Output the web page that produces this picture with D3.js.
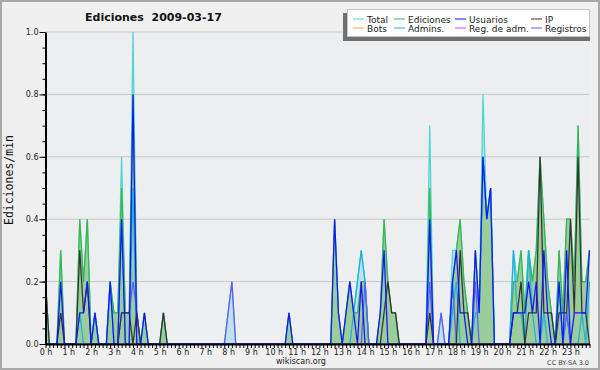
<!DOCTYPE html>
<html>
<head>
<meta charset="utf-8">
<script src="https://cdn.jsdelivr.net/npm/d3@7"></script>
<style>
  body { margin: 0; background: #f0f0f0; }
  svg { display: block; font-family: "DejaVu Sans", sans-serif; }
</style>
</head>
<body>
<svg id="drawing_region"></svg>
<script>
// 10 minute bins, 144 per day, edits per minute
const hourLabels = ["0 h","1 h","2 h","3 h","4 h","5 h","6 h","7 h","8 h","9 h","10 h","11 h",
                    "12 h","13 h","14 h","15 h","16 h","17 h","18 h","19 h","20 h","21 h","22 h","23 h"];
const yMajor = [0, 0.2, 0.4, 0.6, 0.8, 1.0];

const total = [
  .2,0,0,0,.3,0,0,0,0,.4,.2,.4,
  0,.1,0,0,0,.2,.1,.1,.6,.1,.1,1.0,
  .1,0,.1,0,0,0,0,.1,0,0,0,0,
  0,0,0,0,0,0,0,0,0,0,0,0,
  .1,.2,0,0,0,0,0,0,0,0,0,0,
  0,0,0,0,.1,0,0,0,0,0,0,0,
  0,0,0,0,.4,.1,0,.1,.2,.1,.2,.3,
  .2,0,0,0,.1,.4,.2,.1,.1,0,0,0,
  0,0,0,0,0,.7,0,0,.1,0,0,.3,
  .3,.4,.2,.1,0,.3,.1,.8,.4,.5,0,0,
  0,0,0,.3,.2,.3,.1,.3,.2,.3,.6,.4,
  .2,.1,0,.3,.1,.4,.4,.2,.7,.2,.2,.3
];
const ediciones = [
  .2,0,0,0,.3,0,0,0,0,.4,.2,.4,
  0,.1,0,0,0,.2,.1,.1,.5,.1,.1,.8,
  .1,0,.1,0,0,0,0,.1,0,0,0,0,
  0,0,0,0,0,0,0,0,0,0,0,0,
  0,0,0,0,0,0,0,0,0,0,0,0,
  0,0,0,0,.1,0,0,0,0,0,0,0,
  0,0,0,0,.4,.1,0,.1,.2,.1,.1,.2,
  .2,0,0,0,.1,.4,.2,.1,.1,0,0,0,
  0,0,0,0,0,.5,0,0,0,0,0,.2,
  .3,.4,.2,.1,0,.3,.1,.6,.4,.5,0,0,
  0,0,0,.2,.2,.3,.1,.3,.2,.3,.6,.4,
  .2,.1,0,.3,.1,.4,.4,.2,.7,.2,.2,.3
];
const usuarios = [
  0,0,0,0,.2,0,0,0,0,.1,.1,.2,
  0,.1,0,0,0,.2,0,0,.4,0,0,.8,
  0,0,.1,0,0,0,0,0,0,0,0,0,
  0,0,0,0,0,0,0,0,0,0,0,0,
  0,0,0,0,0,0,0,0,0,0,0,0,
  0,0,0,0,.1,0,0,0,0,0,0,0,
  0,0,0,0,.4,.1,0,.1,.2,.1,0,.2,
  0,0,0,0,.1,.3,0,0,0,0,0,0,
  0,0,0,0,0,.4,0,0,0,0,0,.2,
  .3,.1,.1,0,0,.3,.1,.6,.4,.5,0,0,
  0,0,0,.1,.1,.1,.1,.2,.1,.2,0,.3,
  .1,0,0,.2,0,.3,0,.1,.1,.1,.1,.3
];
const ip = [
  .2,0,0,0,.1,0,0,0,0,.3,.1,.2,
  0,0,0,0,0,0,0,0,.1,.1,.1,0,
  .1,0,0,0,0,0,0,.1,0,0,0,0,
  0,0,0,0,0,0,0,0,0,0,0,0,
  0,0,0,0,0,0,0,0,0,0,0,0,
  0,0,0,0,0,0,0,0,0,0,0,0,
  0,0,0,0,0,0,0,0,0,0,0,0,
  0,0,0,0,0,.1,.2,.1,.1,0,0,0,
  0,0,0,0,0,.1,0,0,0,0,0,0,
  0,.3,.1,.1,0,0,0,0,0,0,0,0,
  0,0,0,.1,.1,.2,0,.1,.1,.1,.6,.1,
  .1,.1,0,.1,.1,.1,.4,.1,.6,.1,.1,0
];
const bots = [
  0,0,0,0,0,0,0,0,0,0,0,0, 0,0,0,0,0,0,0,0,0,0,0,0,
  0,0,0,0,0,0,0,0,0,0,0,0, 0,0,0,0,0,0,0,0,0,0,0,0,
  0,0,0,0,0,0,0,0,0,0,0,0, 0,0,0,0,0,0,0,0,0,0,0,0,
  0,0,0,0,0,0,0,0,0,0,0,0, 0,0,0,0,0,0,0,0,0,0,0,0,
  0,0,0,0,0,0,0,0,0,0,0,0, 0,0,0,0,0,0,0,0,0,0,0,0,
  0,0,0,0,0,0,0,0,0,0,0,0, 0,0,0,0,0,0,0,0,0,0,0,0
];
const admins = [
  0,0,0,0,0,0,0,0,0,.1,0,0,
  0,.1,0,0,0,.2,0,0,.4,0,0,.5,
  0,0,0,0,0,0,0,0,0,0,0,0,
  0,0,0,0,0,0,0,0,0,0,0,0,
  0,0,0,0,0,0,0,0,0,0,0,0,
  0,0,0,0,0,0,0,0,0,0,0,0,
  0,0,0,0,0,0,0,0,0,.1,.2,.3,
  .2,0,0,0,0,0,0,0,0,0,0,0,
  0,0,0,0,0,.4,0,0,0,0,0,.1,
  .2,0,0,0,0,.1,.1,.6,.4,.5,0,0,
  0,0,0,.3,.1,.1,0,.3,.1,0,0,.1,
  0,0,0,.2,0,.1,0,0,0,.1,0,.2
];
const regAdm = [
  0,0,0,0,0,0,0,0,0,0,0,0, 0,0,0,0,0,0,0,0,0,0,0,0,
  0,0,0,0,0,0,0,0,0,0,0,0, 0,0,0,0,0,0,0,0,0,0,0,0,
  0,0,0,0,0,0,0,0,0,0,0,0, 0,0,0,0,0,0,0,0,0,0,0,0,
  0,0,0,0,0,0,0,0,0,0,0,0, 0,0,0,0,0,0,0,0,0,0,0,0,
  0,0,0,0,0,0,0,0,0,0,0,0, 0,0,0,0,0,0,0,0,0,0,0,0,
  0,0,0,0,0,0,0,0,0,0,0,0, 0,0,0,0,0,0,0,0,0,0,0,0
];
const registros = [
  0,0,0,0,0,0,0,0,0,0,0,0,
  0,0,0,0,0,0,0,0,.1,.1,.1,.2,
  .1,0,0,0,0,0,0,0,0,0,0,0,
  0,0,0,0,0,0,0,0,0,0,0,0,
  .1,.2,0,0,0,0,0,0,0,0,0,0,
  0,0,0,0,0,0,0,0,0,0,0,0,
  0,0,0,0,0,0,0,0,0,0,0,0,
  .2,0,0,0,0,0,0,0,0,0,0,0,
  0,0,0,0,0,.2,0,0,.1,0,0,.2,
  0,0,0,0,0,.2,0,0,0,0,0,0,
  0,0,0,0,0,0,0,0,0,0,0,0,
  0,0,0,0,0,.1,0,0,0,0,0,0
];

const series = [
  { name: "Total",        values: total,     color: "#48d8cc" },
  { name: "Ediciones",    values: ediciones, color: "#3cb44b" },
  { name: "Usuarios",     values: usuarios,  color: "#1414ff" },
  { name: "IP",           values: ip,        color: "#333333" },
  { name: "Bots",         values: bots,      color: "#ffa030" },
  { name: "Admins.",      values: admins,    color: "#1cb0e4" },
  { name: "Reg. de adm.", values: regAdm,    color: "#e040f0" },
  { name: "Registros",    values: registros, color: "#5c5cff" }
];

const W = 600, H = 370;
const plotLeft = 45.5, plotRight = 589.5, plotTop = 32, plotBottom = 344;

const svg = d3.select('#drawing_region')
  .attr('width', W)
  .attr('height', H);

svg.append('rect')
  .attr('x', 1).attr('y', 1).attr('width', W - 2).attr('height', H - 2)
  .attr('fill', '#f0f0f0').attr('stroke', '#a8a8a8').attr('stroke-width', 2);

svg.append('rect')
  .attr('x', plotLeft).attr('y', plotTop).attr('width', plotRight - plotLeft).attr('height', plotBottom - plotTop)
  .attr('fill', '#eceef0');

const x = d3.scaleLinear().domain([0, 143]).range([plotLeft, plotRight]);
const y = d3.scaleLinear().domain([0, 1]).range([plotBottom, plotTop]);

// grid
svg.append('g').selectAll('line')
  .data(yMajor.slice(1))
  .enter().append('line')
  .attr('x1', plotLeft).attr('x2', plotRight)
  .attr('y1', d => y(d)).attr('y2', d => y(d))
  .attr('stroke', '#c8c8c8').attr('stroke-width', 1);

const area = d3.area()
  .x((d, i) => x(i))
  .y0(y(0))
  .y1(d => y(d));
const line = d3.line()
  .x((d, i) => x(i))
  .y(d => y(d));

svg.append('path').datum(total).attr('d', area).attr('fill', '#c2dfea');
svg.append('path').datum(ediciones).attr('d', area).attr('fill', '#9acd9a');

// draw order of the lines
const order = ["Total", "Ediciones", "Bots", "Reg. de adm.", "Admins.", "Registros", "IP", "Usuarios"];
order.forEach(n => {
  const s = series.find(d => d.name === n);
  svg.append('path')
    .datum(s.values)
    .attr('d', line)
    .attr('fill', 'none')
    .attr('stroke', s.color)
    .attr('stroke-width', 1.25)
    .attr('stroke-linejoin', 'miter');
});

// y axis, minor + major ticks
svg.append('g')
  .attr('transform', `translate(${plotLeft},0)`)
  .call(d3.axisLeft(y).tickValues(d3.range(0, 1.001, 0.05)).tickSize(3).tickFormat('').tickSizeOuter(0))
  .call(g => g.select('.domain').remove());
const yAxis = svg.append('g')
  .attr('transform', `translate(${plotLeft},0)`)
  .call(d3.axisLeft(y).tickValues(yMajor).tickSize(6).tickPadding(1).tickFormat(d3.format('.1f')).tickSizeOuter(0));
yAxis.select('.domain').attr('stroke-width', 2);
yAxis.selectAll('text').attr('font-size', 8).attr('fill', '#222').attr('font-family', '"DejaVu Sans", sans-serif');

// x axis, one tick per 10 minutes
const xAxis = svg.append('g')
  .attr('transform', `translate(0,${plotBottom})`)
  .call(d3.axisBottom(x)
    .tickValues(d3.range(0, 144))
    .tickSize(4)
    .tickPadding(1)
    .tickSizeOuter(0)
    .tickFormat(i => i % 6 === 0 ? hourLabels[i / 6] : ''));
xAxis.select('.domain').attr('stroke-width', 2);
xAxis.selectAll('text').attr('font-size', 8).attr('fill', '#222').attr('font-family', '"DejaVu Sans", sans-serif');

// titles
svg.append('text')
  .attr('x', 85).attr('y', 21)
  .attr('font-family', '"DejaVu Sans", sans-serif')
  .attr('font-weight', 'bold').attr('font-size', 11)
  .attr('fill', '#111')
  .style('white-space', 'pre')
  .text('Ediciones  2009-03-17');

svg.append('text')
  .attr('transform', 'translate(13,180) rotate(-90)')
  .attr('text-anchor', 'middle')
  .attr('font-family', '"DejaVu Sans Mono", monospace')
  .attr('font-size', 11.5)
  .attr('fill', '#111')
  .text('Ediciones/min');

svg.append('text')
  .attr('x', 301).attr('y', 364)
  .attr('text-anchor', 'middle')
  .attr('font-size', 8).attr('fill', '#222')
  .text('wikiscan.org');

svg.append('text')
  .attr('x', 589).attr('y', 365)
  .attr('text-anchor', 'end')
  .attr('font-size', 6.5).attr('fill', '#444')
  .text('CC BY-SA 3.0');

// legend
const legend = svg.append('g');
legend.append('rect')
  .attr('x', 343).attr('y', 13).attr('width', 247).attr('height', 28)
  .attr('fill', '#707070');
legend.append('rect')
  .attr('x', 347.5).attr('y', 9.5).attr('width', 242).attr('height', 27)
  .attr('fill', '#ffffff').attr('stroke', '#c4c4c4').attr('stroke-width', 1);

const colX = [367, 408, 469, 545];
const rowY = [19, 28];
const items = legend.selectAll('g.item')
  .data(series)
  .enter().append('g')
  .attr('class', 'item')
  .attr('transform', (d, i) => `translate(${colX[i % 4]},${rowY[Math.floor(i / 4)]})`);
items.append('line')
  .attr('x1', -14).attr('x2', -3)
  .attr('y1', 0).attr('y2', 0)
  .attr('stroke', d => d.color).attr('stroke-width', 1);
items.append('text')
  .attr('x', 0).attr('y', 3.5)
  .attr('font-size', 9).attr('fill', '#222')
  .text(d => d.name);
</script>
</body>
</html>
